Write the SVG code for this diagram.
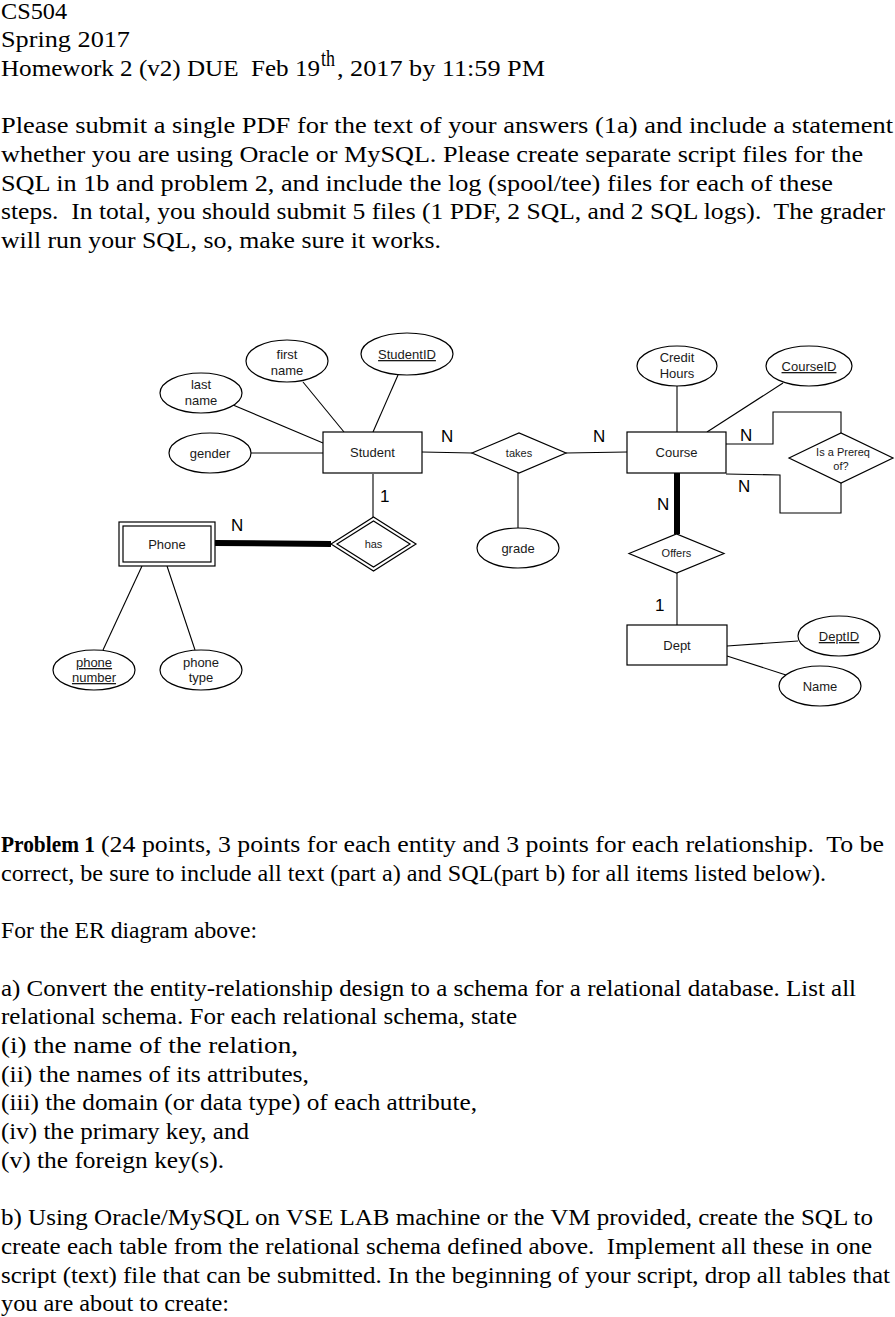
<svg xmlns="http://www.w3.org/2000/svg" width="895" height="1317" viewBox="0 0 895 1317">
<style>
.t{font-family:"Liberation Serif","Times New Roman",serif;font-size:24px;fill:#000}
.l{font-family:"Liberation Sans",Arial,Helvetica,sans-serif;font-size:13px;text-anchor:middle;fill:#1a1a1a}
.s{font-size:11px}
.c{font-family:"Liberation Sans",Arial,Helvetica,sans-serif;font-size:17px;fill:#000}
.u{text-decoration:underline}
.n{fill:#fff;stroke:#000;stroke-width:1.2}
.ln{stroke:#000;stroke-width:1.1;fill:none}
.tk{stroke:#000;stroke-width:6;fill:none}
</style>
<rect width="895" height="1317" fill="#fff"/>
<g id="header">
<text class="t" x="1" y="18.5" textLength="66" lengthAdjust="spacingAndGlyphs">CS504</text>
<text class="t" x="1" y="47.2" textLength="129" lengthAdjust="spacingAndGlyphs">Spring 2017</text>
<text class="t" x="1" y="75.9" textLength="319" lengthAdjust="spacingAndGlyphs" xml:space="preserve">Homework 2 (v2) DUE  Feb 19</text>
<text class="t" x="321" y="66" font-size="13" textLength="14" lengthAdjust="spacingAndGlyphs">th</text>
<text class="t" x="337" y="75.9" textLength="208" lengthAdjust="spacingAndGlyphs">, 2017 by 11:59 PM</text>
<text class="t" x="1" y="133.3" textLength="892" lengthAdjust="spacingAndGlyphs">Please submit a single PDF for the text of your answers (1a) and include a statement</text>
<text class="t" x="1" y="162" textLength="862" lengthAdjust="spacingAndGlyphs">whether you are using Oracle or MySQL. Please create separate script files for the</text>
<text class="t" x="1" y="190.7" textLength="832" lengthAdjust="spacingAndGlyphs">SQL in 1b and problem 2, and include the log (spool/tee) files for each of these</text>
<text class="t" x="1" y="219.4" textLength="884" lengthAdjust="spacingAndGlyphs" xml:space="preserve">steps.  In total, you should submit 5 files (1 PDF, 2 SQL, and 2 SQL logs).  The grader</text>
<text class="t" x="1" y="248.1" textLength="440" lengthAdjust="spacingAndGlyphs">will run your SQL, so, make sure it works.</text>
</g>
<g id="connectors">
<line class="ln" x1="233" y1="405" x2="323" y2="443"/>
<line class="ln" x1="303" y1="382" x2="344" y2="432"/>
<line class="ln" x1="398" y1="375" x2="373" y2="432"/>
<line class="ln" x1="251" y1="453" x2="323" y2="453"/>
<line class="ln" x1="422" y1="452" x2="472" y2="453"/>
<line class="ln" x1="566" y1="453" x2="627" y2="452"/>
<line class="ln" x1="518" y1="473" x2="518" y2="528"/>
<line class="ln" x1="373" y1="474" x2="373" y2="517"/>
<line class="tk" x1="215" y1="543" x2="331" y2="544"/>
<line class="ln" x1="142" y1="566" x2="103" y2="650"/>
<line class="ln" x1="167" y1="566" x2="195" y2="650"/>
<line class="ln" x1="677" y1="386" x2="677" y2="432"/>
<line class="ln" x1="783" y1="383" x2="707" y2="432"/>
<path class="ln" d="M726,444 H773 V412 H841 V433"/>
<path class="ln" d="M726,474 L780,475 V513 H841 V483"/>
<line class="tk" x1="677" y1="473" x2="677" y2="534"/>
<line class="ln" x1="677" y1="573" x2="677" y2="625"/>
<line class="ln" x1="727" y1="646" x2="798" y2="641"/>
<line class="ln" x1="727" y1="656" x2="786" y2="675"/>
<text class="c" x="441" y="442">N</text>
<text class="c" x="593" y="442">N</text>
<text class="c" x="380" y="502">1</text>
<text class="c" x="231" y="531">N</text>
<text class="c" x="740" y="441">N</text>
<text class="c" x="738" y="492">N</text>
<text class="c" x="657" y="510">N</text>
<text class="c" x="655" y="611">1</text>
</g>
<g id="student">
<rect class="n" x="323" y="432" width="99" height="41"/>
<text class="l" x="372.5" y="457">Student</text>
</g>
<g id="lastname">
<ellipse class="n" cx="201" cy="393" rx="41" ry="20"/>
<text class="l" x="201" y="389">last</text>
<text class="l" x="201" y="405">name</text>
</g>
<g id="firstname">
<ellipse class="n" cx="287" cy="361" rx="41" ry="21"/>
<text class="l" x="287" y="359">first</text>
<text class="l" x="287" y="375">name</text>
</g>
<g id="studentid">
<ellipse class="n" cx="407" cy="354" rx="46" ry="21"/>
<text class="l u" x="407" y="359">StudentID</text>
</g>
<g id="gender">
<ellipse class="n" cx="210" cy="453" rx="41" ry="20"/>
<text class="l" x="210" y="458">gender</text>
</g>
<g id="takes">
<polygon class="n" points="472,453 519,433 566,453 519,473"/>
<text class="l s" x="519" y="457">takes</text>
</g>
<g id="grade">
<ellipse class="n" cx="518" cy="548" rx="41" ry="20"/>
<text class="l" x="518" y="553">grade</text>
</g>
<g id="has">
<polygon class="n" points="331,544 373.5,517 416,544 373.5,571"/>
<polygon class="n" points="337,544 373.5,521 410,544 373.5,567"/>
<text class="l s" x="373.5" y="548">has</text>
</g>
<g id="phone">
<rect class="n" x="119" y="522" width="96" height="44"/>
<rect class="n" x="123" y="526" width="88" height="36"/>
<text class="l" x="167" y="549">Phone</text>
</g>
<g id="phonenumber">
<ellipse class="n" cx="94" cy="670" rx="41" ry="20"/>
<text class="l u" x="94" y="667">phone</text>
<text class="l u" x="94" y="682">number</text>
</g>
<g id="phonetype">
<ellipse class="n" cx="201" cy="670" rx="41" ry="20"/>
<text class="l" x="201" y="667">phone</text>
<text class="l" x="201" y="682">type</text>
</g>
<g id="course">
<rect class="n" x="627" y="432" width="99" height="41"/>
<text class="l" x="676.5" y="457">Course</text>
</g>
<g id="credithours">
<ellipse class="n" cx="677" cy="366" rx="40" ry="20"/>
<text class="l" x="677" y="362">Credit</text>
<text class="l" x="677" y="378">Hours</text>
</g>
<g id="courseid">
<ellipse class="n" cx="809" cy="366" rx="43" ry="20"/>
<text class="l u" x="809" y="371">CourseID</text>
</g>
<g id="prereq">
<polygon class="n" points="789,458 841,433 893,458 841,483"/>
<text class="l s" x="843" y="456">Is a Prereq</text>
<text class="l s" x="841" y="470">of?</text>
</g>
<g id="offers">
<polygon class="n" points="629,553.5 676.5,534 724,553.5 676.5,573"/>
<text class="l s" x="676.5" y="557">Offers</text>
</g>
<g id="dept">
<rect class="n" x="627" y="625" width="100" height="40"/>
<text class="l" x="677" y="650">Dept</text>
</g>
<g id="deptid">
<ellipse class="n" cx="839" cy="636" rx="41" ry="20"/>
<text class="l u" x="839" y="641">DeptID</text>
</g>
<g id="name">
<ellipse class="n" cx="820" cy="686" rx="41" ry="20"/>
<text class="l" x="820" y="691">Name</text>
</g>
<g id="problem">
<text class="t" x="1" y="852" font-weight="bold" textLength="94" lengthAdjust="spacingAndGlyphs">Problem 1</text>
<text class="t" x="101" y="852" textLength="783" lengthAdjust="spacingAndGlyphs" xml:space="preserve">(24 points, 3 points for each entity and 3 points for each relationship.  To be</text>
<text class="t" x="1" y="880.7" textLength="825" lengthAdjust="spacingAndGlyphs">correct, be sure to include all text (part a) and SQL(part b) for all items listed below).</text>
<text class="t" x="1" y="938.1" textLength="256" lengthAdjust="spacingAndGlyphs">For the ER diagram above:</text>
<text class="t" x="1" y="995.5" textLength="855" lengthAdjust="spacingAndGlyphs">a) Convert the entity-relationship design to a schema for a relational database. List all</text>
<text class="t" x="1" y="1024.2" textLength="516" lengthAdjust="spacingAndGlyphs">relational schema. For each relational schema, state</text>
<text class="t" x="1" y="1052.9" textLength="297" lengthAdjust="spacingAndGlyphs">(i) the name of the relation,</text>
<text class="t" x="1" y="1081.6" textLength="308" lengthAdjust="spacingAndGlyphs">(ii) the names of its attributes,</text>
<text class="t" x="1" y="1110.3" textLength="476" lengthAdjust="spacingAndGlyphs">(iii) the domain (or data type) of each attribute,</text>
<text class="t" x="1" y="1139" textLength="248" lengthAdjust="spacingAndGlyphs">(iv) the primary key, and</text>
<text class="t" x="1" y="1167.7" textLength="223" lengthAdjust="spacingAndGlyphs">(v) the foreign key(s).</text>
<text class="t" x="1" y="1225.1" textLength="872" lengthAdjust="spacingAndGlyphs">b) Using Oracle/MySQL on VSE LAB machine or the VM provided, create the SQL to</text>
<text class="t" x="1" y="1253.8" textLength="871" lengthAdjust="spacingAndGlyphs" xml:space="preserve">create each table from the relational schema defined above.  Implement all these in one</text>
<text class="t" x="1" y="1282.5" textLength="889" lengthAdjust="spacingAndGlyphs">script (text) file that can be submitted. In the beginning of your script, drop all tables that</text>
<text class="t" x="1" y="1311.2" textLength="228" lengthAdjust="spacingAndGlyphs">you are about to create:</text>
</g>
</svg>
